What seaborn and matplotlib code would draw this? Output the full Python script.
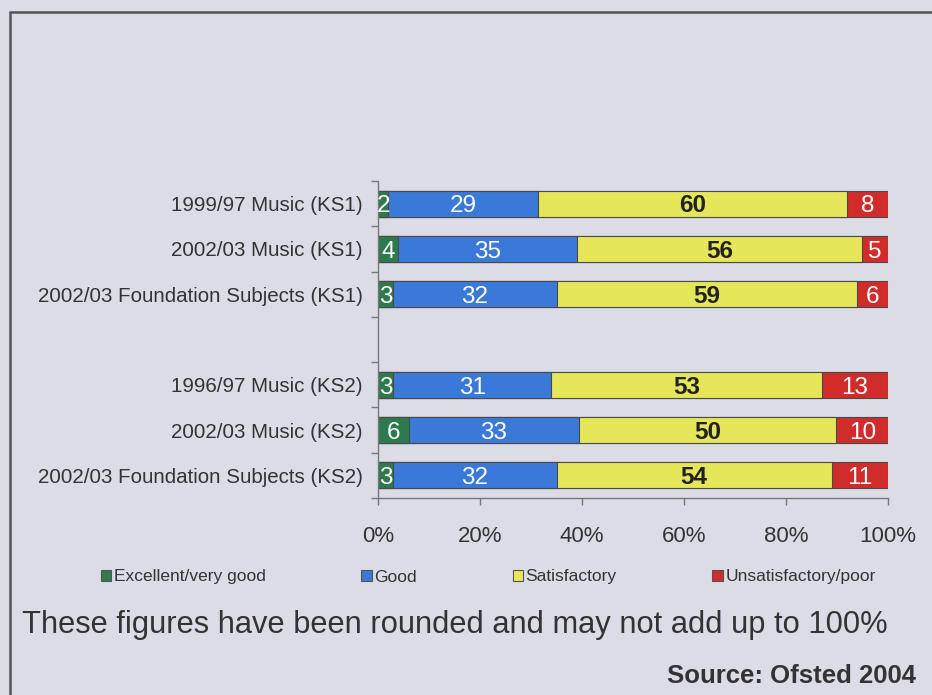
import matplotlib
matplotlib.use("Agg")
import matplotlib.pyplot as plt
from matplotlib.patches import Patch
from matplotlib.lines import Line2D
import seaborn as sns
import pandas as pd
import numpy as np

# ---- data ----
labels = ["1999/97 Music (KS1)", "2002/03 Music (KS1)", "2002/03 Foundation Subjects (KS1)",
          "1996/97 Music (KS2)", "2002/03 Music (KS2)", "2002/03 Foundation Subjects (KS2)"]
series = ["Excellent/very good", "Good", "Satisfactory", "Unsatisfactory/poor"]
excellent = [2, 4, 3, 3, 6, 3]
good = [29, 35, 32, 31, 33, 32]
satisfactory = [60, 56, 59, 53, 50, 54]
unsatisfactory = [8, 5, 6, 13, 10, 11]
xticks = [0, 20, 40, 60, 80, 100]

colors = ["#2d7a4d", "#3a79d8", "#e6e65a", "#d02c2c"]
text_colors = ["white", "white", "#222222", "white"]

sns.set_style("white")
plt.rcParams["font.family"] = ["Liberation Sans", "DejaVu Sans"]

vals = np.array([excellent, good, satisfactory, unsatisfactory], dtype=float)
totals = vals.sum(axis=0)
pct = vals / totals * 100.0
cum = np.cumsum(pct, axis=0)

df = pd.DataFrame({"label": labels})
for i, s in enumerate(series):
    df[f"cum{i}"] = cum[i]

order = labels[:3] + [" "] + labels[3:]

bg = "#dcdce7"
fig = plt.figure(figsize=(9.32, 6.95), dpi=100, facecolor=bg)
ax = fig.add_axes([378/932, 1-498/695, 510/932, 317/695])
ax.set_facecolor("none")

for i in range(len(series) - 1, -1, -1):
    sns.barplot(data=df, x=f"cum{i}", y="label", order=order, orient="h",
                color=colors[i], saturation=1, width=0.58,
                edgecolor="#4a4a4a", linewidth=0.8, ax=ax)

# segment labels
lab_fs = 17.5
for r, lab in enumerate(labels):
    ypos = order.index(lab)
    left = 0.0
    for i in range(len(series)):
        w = pct[i, r]
        ax.annotate(f"{int(vals[i, r])}", (left + w/2, ypos),
                    xytext=(0, -0.36 * lab_fs), textcoords="offset points",
                    ha="center", va="baseline",
                    color=text_colors[i], fontsize=lab_fs,
                    fontweight="bold" if i == 2 else "normal")
        left += w

ax.set_xlim(0, 100)
ax.set_ylim(len(order) - 0.5, -0.5)
ax.set_xticks(xticks)
ax.set_xticklabels([f"{t}%" for t in xticks], fontsize=16, color="#333333")
ax.set_yticks(range(len(order)))
ax.set_yticklabels(order, fontsize=14.8, color="#333333")
ax.set_yticks(np.arange(-0.5, len(order), 1.0), minor=True)
ax.tick_params(axis="y", which="major", length=0, pad=11)
ax.tick_params(axis="y", which="minor", length=5, color="#777777", width=1, direction="out", left=True)
ax.tick_params(axis="x", which="major", length=5, color="#777777", width=1, direction="out", pad=15, bottom=True)
ax.set_xlabel("")
ax.set_ylabel("")
for side in ["top", "right"]:
    ax.spines[side].set_visible(False)
for side in ["left", "bottom"]:
    ax.spines[side].set_color("#777777")
    ax.spines[side].set_linewidth(1)

# legend
handles = [Patch(facecolor=c, edgecolor="#555555", linewidth=0.8) for c in colors]
leg = fig.legend(handles, series, loc="center left", bbox_to_anchor=(101/932, 1-577/695),
                 ncol=4, frameon=False, fontsize=12.5, handlelength=0.6, handleheight=0.6,
                 handletextpad=0.15, columnspacing=5.5, borderaxespad=0, borderpad=0)
for t in leg.get_texts():
    t.set_color("#333333")

fig.text(22/932, 1-625/695, "These figures have been rounded and may not add up to 100%",
         fontsize=22.2, color="#333333", ha="left", va="center")
fig.text(916/932, 1-676/695, "Source: Ofsted 2004", fontsize=18.5, fontweight="bold",
         color="#333333", ha="right", va="center")

# frame border
fig.add_artist(Line2D([10/932, 10/932], [1-12/695, -0.02], transform=fig.transFigure,
                      color="#555555", linewidth=1.8))
fig.add_artist(Line2D([10/932, 1.02], [1-12/695, 1-12/695], transform=fig.transFigure,
                      color="#555555", linewidth=1.8))

fig.savefig("out.png", dpi=100, facecolor=bg)
